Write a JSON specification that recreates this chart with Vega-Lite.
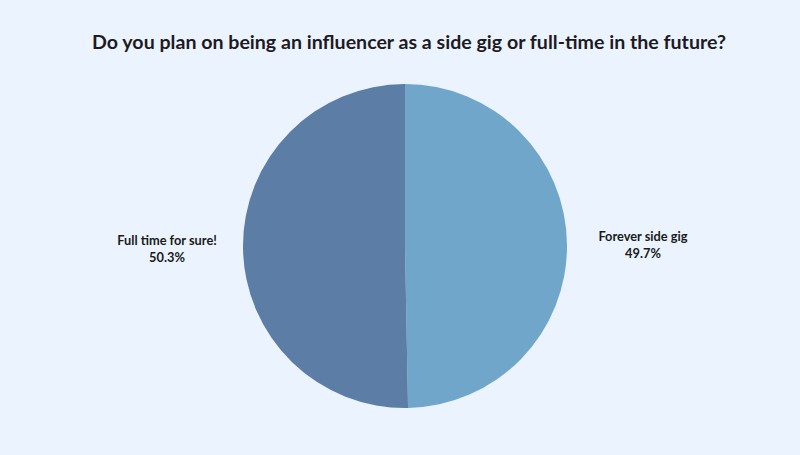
{
  "$schema": "https://vega.github.io/schema/vega-lite/v6.json",
  "autosize": "none",
  "width": 790,
  "height": 352,
  "padding": {"top": 70, "left": 10, "right": 0, "bottom": 33},
  "background": "#EBF4FE",
  "title": {
    "text": "Do you plan on being an influencer as a side gig or full-time in the future?",
    "font": "Lato",
    "fontSize": 19.6,
    "fontWeight": "bold",
    "color": "#1E1A22",
    "anchor": "middle",
    "dx": 4,
    "offset": 16
  },
  "config": {"view": {"stroke": null}},
  "data": {
    "values": [
      {"answer": "Forever side gig", "pct": 49.7, "label": "49.7%"},
      {"answer": "Full time for sure!", "pct": 50.3, "label": "50.3%"}
    ]
  },
  "encoding": {
    "theta": {"field": "pct", "type": "quantitative", "stack": true},
    "color": {
      "field": "answer",
      "type": "nominal",
      "scale": {
        "domain": ["Forever side gig", "Full time for sure!"],
        "range": ["#71A6CB", "#5B7DA6"]
      },
      "legend": null
    }
  },
  "layer": [
    {"mark": {"type": "arc", "outerRadius": 162}},
    {
      "mark": {"type": "text", "radius": 238, "dy": -7, "font": "Lato", "fontSize": 12.8, "fontWeight": "bold", "fill": "#1A1A1A"},
      "encoding": {"text": {"field": "answer"}}
    },
    {
      "mark": {"type": "text", "radius": 238, "dy": 10, "font": "Lato", "fontSize": 12.8, "fontWeight": "bold", "fill": "#1A1A1A"},
      "encoding": {"text": {"field": "label"}}
    }
  ]
}
